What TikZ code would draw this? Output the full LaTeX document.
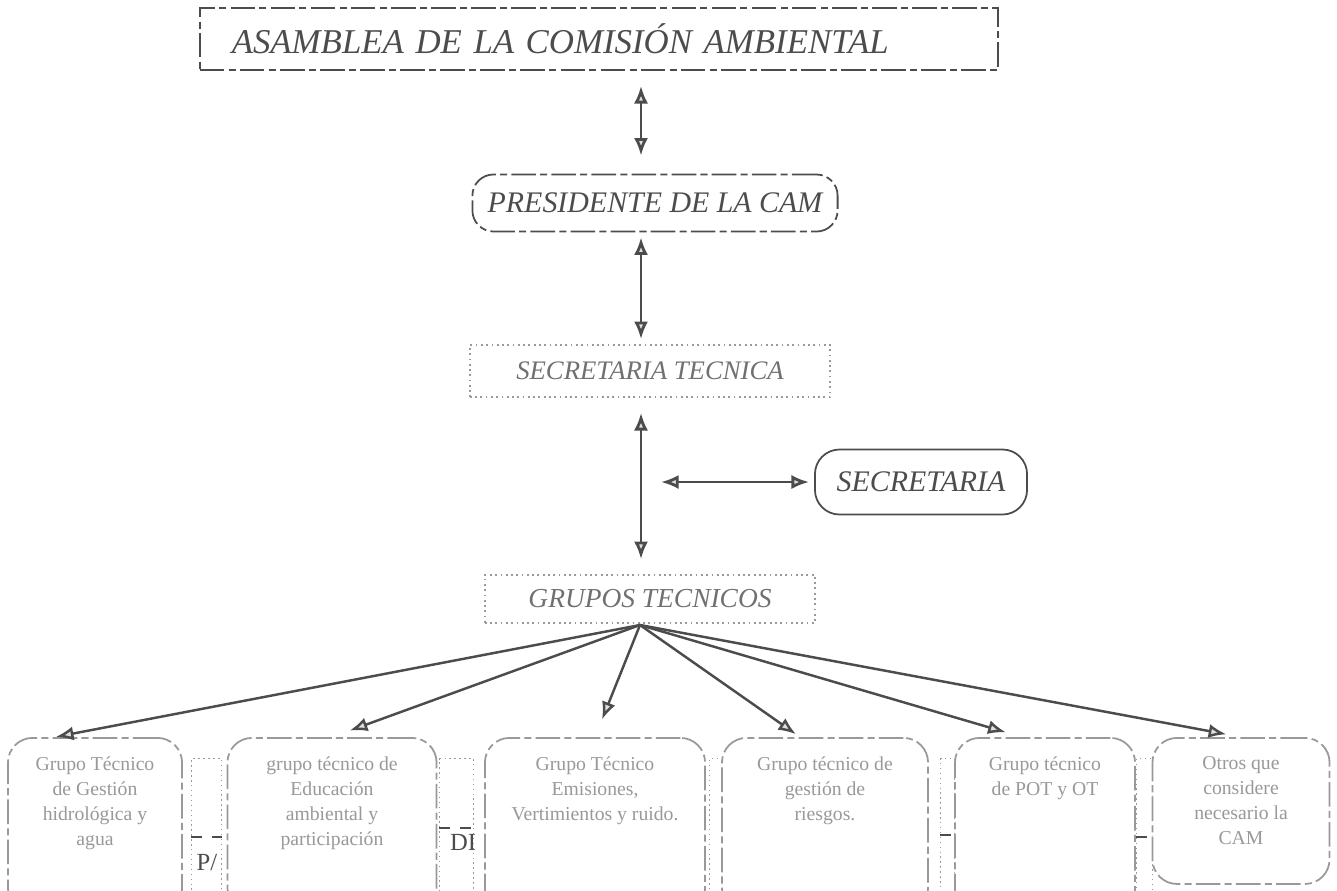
\documentclass[tikz,border=0pt]{standalone}
\usepackage{fontspec}
\setmainfont{Liberation Serif}
\usepackage{tikz}
\usetikzlibrary{arrows.meta,positioning}
\definecolor{scangray}{rgb}{0.3,0.3,0.3}
\definecolor{fadegray}{rgb}{0.6,0.6,0.6}

\begin{document}
\begin{tikzpicture}[x=0.01cm,y=-0.01cm,
    camline/.style={draw=scangray, line width=0.5pt, dash pattern=on 7pt off 1.2pt on 2pt off 1.2pt},
    headbox/.style={camline, inner sep=0pt, text=scangray},
    softbox/.style={draw=fadegray, line width=0.5pt, densely dotted, inner sep=0pt, text=scangray!80},
    gtbox/.style={camline, draw=fadegray, rounded corners=7pt, fill=white, anchor=north, minimum height=1.75cm, inner sep=0pt},
    gttext/.style={text=fadegray, align=center, font=\fontsize{5.6}{7.1}\selectfont, inner sep=0pt},
    hidbox/.style={draw=fadegray, line width=0.4pt, densely dotted, anchor=north west, minimum height=1.4cm, inner sep=0pt},
    hidline/.style={draw=scangray, line width=0.4pt, dashed},
    dbl/.style={{Latex[length=5pt,width=4pt,fill=gray!25]}-{Latex[length=5pt,width=4pt,fill=gray!25]}, draw=scangray, line width=0.8pt},
    fan/.style={-{Latex[length=5pt,width=4pt,fill=gray!25]}, draw=scangray, line width=0.7pt}
]
    \useasboundingbox (0,0) rectangle (1337,890);
    \clip (0,0) rectangle (1337,890);

    %Upper boxes
    \node[headbox, text width=7.34cm, inner xsep=0.32cm, align=left, minimum height=0.62cm, font=\itshape\fontsize{9.9}{11}\selectfont] (asamblea) at (599,39) {ASAMBLEA DE LA COMISIÓN AMBIENTAL};
    \node[headbox, rounded corners=6pt, minimum width=3.65cm, minimum height=0.57cm, font=\itshape\fontsize{8.5}{10}\selectfont] (presidente) at (655,203) {PRESIDENTE DE LA CAM};
    \node[softbox, minimum width=3.6cm, minimum height=0.52cm, font=\itshape\fontsize{7.6}{9}\selectfont] (sectec) at (650,371) {SECRETARIA TECNICA};
    \node[headbox, solid, rounded corners=7pt, minimum width=2.12cm, minimum height=0.65cm, font=\itshape\fontsize{8.5}{10}\selectfont] (secretaria) at (921,482) {SECRETARIA};
    \node[softbox, minimum width=3.3cm, minimum height=0.48cm, font=\itshape\fontsize{7.8}{9}\selectfont] (grupos) at (650,599) {GRUPOS TECNICOS};

    %Vertical arrows
    \coordinate (eje) at (641,0);
    \draw[dbl, shorten <=0.15cm, shorten >=0.18cm] (asamblea.south -| eje) -- (presidente.north -| eje);
    \draw[dbl, shorten <=0.05cm, shorten >=0.05cm] (presidente.south -| eje) -- (sectec.north -| eje);
    \draw[dbl, shorten <=0.15cm, shorten >=0.15cm] (sectec.south -| eje) -- (grupos.north -| eje);
    \draw[dbl, shorten <=0.2cm, shorten >=0.05cm] (secretaria.west -| eje) -- (secretaria.west);

    %Boxes behind
    \node[hidbox, minimum width=0.3cm] (h1) at (191,758) {};
    \node[hidbox, minimum width=0.34cm] (h2) at (439,758) {};
    \node[hidbox, minimum width=0.13cm] (h3) at (709,758) {};
    \node[hidbox, minimum width=0.14cm] (h4) at (940,758) {};
    \node[hidbox, minimum width=0.16cm] (h5) at (1136,758) {};
    \node[text=scangray, font=\fontsize{7}{8}\selectfont, inner sep=0pt] (p1) at (207,862) {P/};
    \node[text=scangray, font=\fontsize{7}{8}\selectfont, inner sep=0pt] (p2) at (463,842) {DI};
    \foreach \h/\d in {h1/0.79cm, h2/0.7cm, h4/0.77cm, h5/0.79cm}
        \draw[hidline] ([yshift=-\d]\h.north west) -- ([yshift=-\d]\h.north east);

    %Technical groups
    \node[gtbox, minimum width=1.74cm] (g1) at (95,737) {};
    \node[gtbox, minimum width=2.09cm] (g2) at (332,737) {};
    \node[gtbox, minimum width=2.2cm] (g3) at (595,737) {};
    \node[gtbox, minimum width=2.06cm] (g4) at (825,737) {};
    \node[gtbox, minimum width=1.8cm] (g5) at (1045,737) {};
    \node[gtbox, minimum width=1.77cm, minimum height=1.46cm] (g6) at (1241,737) {};
    \node[gttext, below=0.19cm of g1.north] (t1) {Grupo Técnico\\de Gestión\\hidrológica y\\agua};
    \node[gttext, below=0.19cm of g2.north] (t2) {grupo técnico de\\Educación\\ambiental y\\participación};
    \node[gttext, below=0.19cm of g3.north] (t3) {Grupo Técnico\\Emisiones,\\Vertimientos y ruido.};
    \node[gttext, below=0.19cm of g4.north] (t4) {Grupo técnico de\\gestión de\\riesgos.};
    \node[gttext, below=0.19cm of g5.north] (t5) {Grupo técnico\\de POT y OT};
    \node[gttext, below=0.19cm of g6.north] (t6) {Otros que\\considere\\necesario la\\CAM};

    %Fan arrows
    \coordinate (fan) at (640,625);
    \foreach \g/\dx/\s in {g1/-0.4cm/0.01cm, g2/0cm/0.19cm, g3/0cm/0.19cm, g4/-0.25cm/0.05cm, g5/-0.23cm/0.17cm, g6/0cm/0.15cm}
        \draw[fan, shorten >=\s] (fan) -- ([xshift=\dx]\g.north);
\end{tikzpicture}
\end{document}
